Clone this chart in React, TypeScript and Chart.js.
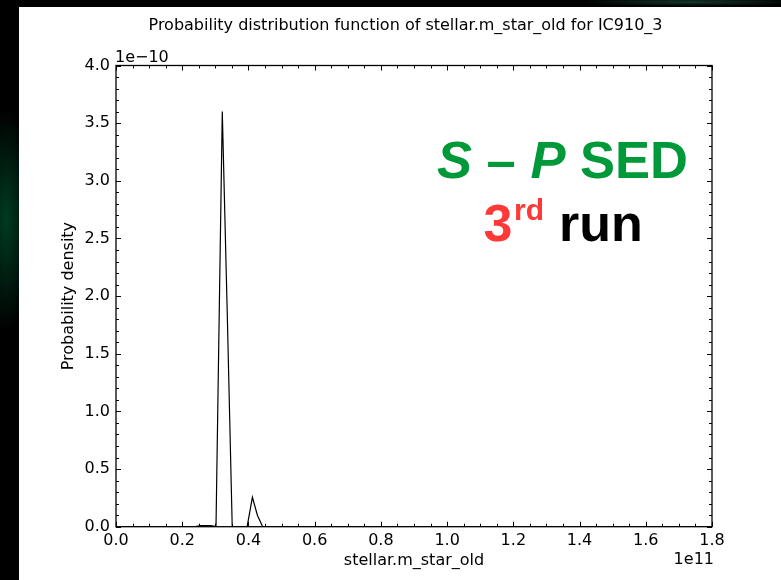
import React, { useEffect, useRef } from "react";
import { Chart, registerables } from "chart.js";

Chart.register(...registerables);

// ---- data (x in units of 1e11, y in units of 1e-10) ----
const massE11 = [0, 0.24, 0.255, 0.271, 0.287, 0.302, 0.321, 0.336, 0.351, 0.367, 0.383, 0.396, 0.412, 0.427, 0.443, 1.8];
const densityE10 = [0, 0, 0.01, 0.01, 0.01, 0, 3.6, 1.85, 0, 0, 0, 0, 0.255, 0.1, 0, 0];

const xTickValues = [0, 0.2, 0.4, 0.6, 0.8, 1.0, 1.2, 1.4, 1.6, 1.8];
const yTickValues = [0, 0.5, 1.0, 1.5, 2.0, 2.5, 3.0, 3.5, 4.0];

const titleText = "Probability distribution function of stellar.m_star_old for IC910_3";
const xLabel = "stellar.m_star_old";
const yLabel = "Probability density";
const xOffsetText = "1e11";
const yOffsetText = "1e\u221210";

const FONT = '"DejaVu Sans", sans-serif';
const BIG = '"Liberation Sans", Arial, sans-serif';
const GREEN = "#00993a";
const RED = "#ff3838";

const framePlugin = {
  id: "frame",
  afterDatasetsDraw(chart: any) {
    const { ctx, chartArea: a, scales } = chart;
    const x = scales.x;
    const y = scales.y;
    ctx.save();
    ctx.strokeStyle = "#000";
    ctx.lineWidth = 1;
    const seg = (x1: number, y1: number, x2: number, y2: number) => {
      ctx.beginPath();
      ctx.moveTo(x1, y1);
      ctx.lineTo(x2, y2);
      ctx.stroke();
    };
    // x ticks (inward, top and bottom)
    for (let i = 0; i <= 36; i++) {
      const px = Math.round(x.getPixelForValue(i * 0.05)) + 0.5;
      const len = i % 4 === 0 ? 5 : 3;
      seg(px, a.bottom, px, a.bottom - len);
      seg(px, a.top, px, a.top + len);
    }
    // y ticks (inward, left and right)
    for (let i = 0; i <= 40; i++) {
      const py = Math.round(y.getPixelForValue(i * 0.1)) + 0.5;
      const len = i % 5 === 0 ? 5 : 3;
      seg(a.left, py, a.left + len, py);
      seg(a.right, py, a.right - len, py);
    }
    ctx.lineWidth = 1.3;
    ctx.strokeRect(a.left, a.top, a.right - a.left, a.bottom - a.top);

    // offset texts
    ctx.fillStyle = "#000";
    ctx.font = `16px ${FONT}`;
    ctx.textBaseline = "alphabetic";
    ctx.textAlign = "left";
    ctx.fillText(yOffsetText, a.left - 1, a.top - 4);
    ctx.textAlign = "right";
    ctx.fillText(xOffsetText, a.right + 2, 557);

    // overlay annotation
    ctx.textAlign = "left";
    const pieces: [string, string, string][] = [
      ["S", "italic bold", GREEN],
      [" \u2013 ", "bold", GREEN],
      ["P", "italic bold", GREEN],
      [" SED", "bold", GREEN],
    ];
    let cx = 418;
    for (const [t, st, col] of pieces) {
      ctx.font = `${st} 52.5px ${BIG}`;
      ctx.fillStyle = col;
      ctx.fillText(t, cx, 171);
      cx += ctx.measureText(t).width;
    }
    ctx.font = `bold 52px ${BIG}`;
    ctx.fillStyle = RED;
    ctx.fillText("3", 464.5, 233.7);
    ctx.font = `bold 30px ${BIG}`;
    ctx.fillText("rd", 495, 213);
    ctx.font = `bold 52px ${BIG}`;
    ctx.fillStyle = "#000";
    ctx.fillText("run", 540, 233.7);
    ctx.restore();
  },
};

export default function App() {
  const ref = useRef<HTMLCanvasElement | null>(null);

  useEffect(() => {
    document.body.style.margin = "0";
    const canvas = ref.current;
    if (!canvas) return;
    const points = massE11.map((v, i) => ({ x: v, y: densityE10[i] }));
    const chart = new Chart(canvas, {
      type: "line",
      data: {
        datasets: [
          {
            data: points,
            borderColor: "#000",
            borderWidth: 1.2,
            pointRadius: 0,
            tension: 0,
            fill: false,
            yAxisID: "y",
          },
        ],
      },
      options: {
        responsive: false,
        animation: false,
        devicePixelRatio: 1,
        layout: { padding: { left: 11, right: 0, top: 0, bottom: 0 } },
        plugins: {
          legend: { display: false },
          tooltip: { enabled: false },
          title: {
            display: true,
            text: titleText,
            color: "#000",
            font: { family: FONT, size: 16, weight: "normal" },
            padding: { top: 9.6, bottom: 29.7 },
          },
        },
        scales: {
          x: {
            type: "linear",
            min: 0,
            max: 1.8,
            grid: { display: false, drawTicks: false },
            border: { display: false },
            afterBuildTicks: (s: any) => {
              s.ticks = xTickValues.map((v) => ({ value: v }));
            },
            afterFit: (s: any) => {
              s.height = 53.3;
            },
            ticks: {
              color: "#000",
              font: { family: FONT, size: 16 },
              padding: 4.2,
              maxRotation: 0,
              autoSkip: false,
              callback: (v: any) => Number(v).toFixed(1),
            },
            title: {
              display: true,
              text: xLabel,
              color: "#000",
              font: { family: FONT, size: 16 },
              padding: { top: 0, bottom: 9.9 },
            },
          },
          y: {
            type: "linear",
            position: "left",
            min: 0,
            max: 4,
            grid: { display: false, drawTicks: false },
            border: { display: false },
            afterBuildTicks: (s: any) => {
              s.ticks = yTickValues.map((v) => ({ value: v }));
            },
            afterFit: (s: any) => {
              s.width = 86;
            },
            ticks: {
              color: "#000",
              font: { family: FONT, size: 16 },
              padding: 6,
              autoSkip: false,
              callback: (v: any) => Number(v).toFixed(1),
            },
            title: {
              display: true,
              text: yLabel,
              color: "#000",
              font: { family: FONT, size: 16 },
              padding: { top: 29.4, bottom: 0 },
            },
          },
          yRight: {
            type: "linear",
            position: "right",
            min: 0,
            max: 4,
            display: true,
            grid: { display: false, drawTicks: false },
            border: { display: false },
            ticks: { display: false },
            afterFit: (s: any) => {
              s.width = 69;
            },
          },
        },
      },
      plugins: [framePlugin],
    });
    return () => chart.destroy();
  }, []);

  return (
    <div
      style={{
        position: "fixed",
        left: 0,
        top: 0,
        width: 781,
        height: 580,
        overflow: "hidden",
        background:
          "radial-gradient(ellipse 40px 160px at 6px 220px, rgba(0,110,60,0.55), rgba(0,0,0,0) 70%), radial-gradient(ellipse 160px 6px at 690px 2px, rgba(40,110,90,0.5), rgba(0,0,0,0) 70%), #000",
      }}
    >
      <div style={{ position: "absolute", left: 19, top: 7, width: 762, height: 573, background: "#fff" }}>
        <canvas ref={ref} width={762} height={573} style={{ display: "block", width: 762, height: 573 }} />
      </div>
    </div>
  );
}
